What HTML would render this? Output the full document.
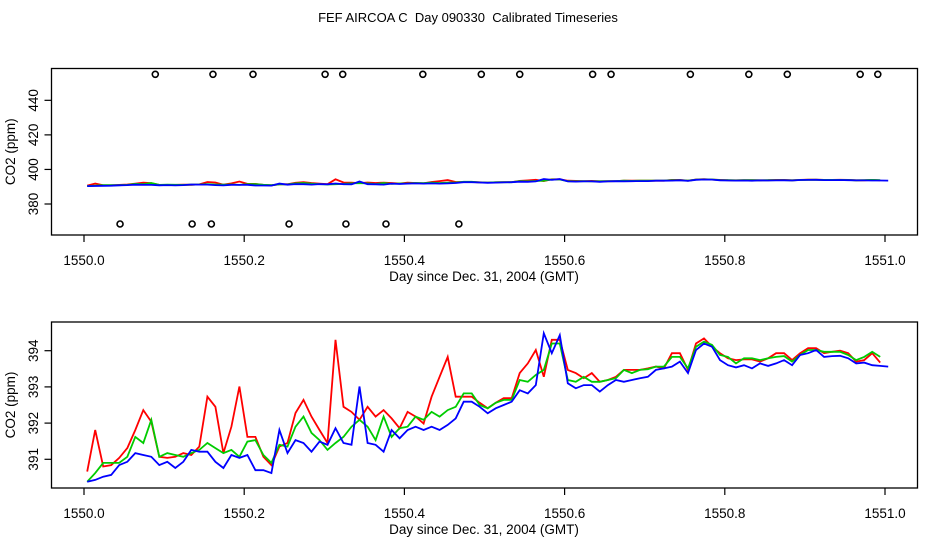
<!DOCTYPE html>
<html><head><meta charset="utf-8"><style>
body{margin:0;background:#fff}
svg{display:block;font-family:"Liberation Sans",sans-serif}
text{white-space:pre}
</style></head><body>
<svg id="c" width="936" height="540"></svg>
<script>
const dayTicks=[1550.0,1550.2,1550.4,1550.6,1550.8,1551.0];
const topTicks=[380,400,420,440];
const botTicks=[391,392,393,394];
const redVals=[390.66,391.81,390.80,390.84,391.04,391.31,391.81,392.36,392.04,391.07,391.04,391.07,391.17,391.12,391.35,392.73,392.45,391.17,391.90,393.01,391.62,391.62,391.07,390.84,391.35,391.45,392.28,392.64,392.18,391.81,391.45,394.30,392.45,392.31,392.09,392.45,392.18,392.36,392.13,391.86,392.31,392.18,391.99,392.73,393.28,393.83,392.73,392.73,392.73,392.56,392.41,392.56,392.69,392.69,393.38,393.65,394.02,393.28,394.30,394.30,393.47,393.38,393.24,393.38,393.14,393.19,393.28,393.47,393.47,393.47,393.51,393.56,393.51,393.93,393.93,393.47,394.20,394.34,394.11,393.93,393.79,393.74,393.76,393.76,393.70,393.79,393.93,393.93,393.74,393.93,394.07,394.07,393.93,393.97,394.00,393.93,393.70,393.74,393.93,393.67];
const greenVals=[390.38,390.62,390.90,390.90,390.90,391.07,391.62,391.45,392.09,391.07,391.17,391.12,391.07,391.17,391.26,391.45,391.31,391.17,391.26,391.07,391.49,391.53,391.12,390.90,391.40,391.35,391.90,392.18,391.73,391.53,391.26,391.45,391.62,391.90,392.09,391.90,391.53,392.18,391.62,391.86,391.90,392.18,392.09,392.31,392.18,392.36,392.45,392.82,392.82,392.50,392.41,392.56,392.64,392.64,393.19,393.14,393.33,393.47,394.20,394.20,393.19,393.14,393.28,393.14,393.14,393.19,393.24,393.47,393.38,393.47,393.49,393.56,393.56,393.83,393.83,393.51,394.11,394.25,394.16,393.88,393.83,393.65,393.79,393.79,393.74,393.79,393.83,393.85,393.70,393.88,394.02,394.02,393.97,393.97,393.97,393.88,393.74,393.83,393.97,393.83];
const blueVals=[390.38,390.43,390.52,390.57,390.84,390.93,391.17,391.12,391.07,390.84,390.93,390.76,390.93,391.26,391.21,391.21,390.93,390.76,391.12,391.04,391.12,390.70,390.70,390.62,391.81,391.17,391.53,391.45,391.21,391.49,391.40,391.86,391.45,391.40,393.01,391.45,391.40,391.21,391.81,391.58,391.81,391.90,391.81,391.90,391.81,391.95,392.13,392.59,392.59,392.45,392.27,392.41,392.50,392.59,392.91,392.82,393.05,394.48,393.93,394.43,393.10,392.96,393.05,393.05,392.87,393.05,393.19,393.14,393.19,393.24,393.28,393.47,393.51,393.56,393.70,393.38,394.02,394.20,394.11,393.74,393.60,393.54,393.60,393.51,393.65,393.58,393.65,393.74,393.60,393.88,393.93,394.02,393.83,393.85,393.86,393.79,393.65,393.67,393.60,393.58,393.56];
const highFlagDays=[1550.089,1550.161,1550.211,1550.301,1550.323,1550.423,1550.496,1550.544,1550.635,1550.658,1550.757,1550.830,1550.878,1550.969,1550.991];
const lowFlagDays=[1550.045,1550.135,1550.159,1550.256,1550.327,1550.377,1550.468];
const startDay=1550.004, stepDay=0.01;

const NS="http://www.w3.org/2000/svg";
const svg=document.getElementById('c');
function mk(tag,attrs,parent){const e=document.createElementNS(NS,tag);for(const k in attrs)e.setAttribute(k,attrs[k]);(parent||svg).appendChild(e);return e;}
const xs=d=>84+(d-1550)*801;
const yTop=v=>204-(v-380)*1.728;
const yBot=v=>350.7-(v-394)*36.2;
const dayOf=i=>startDay+i*stepDay;
const FS=13.5;

const title=mk('text',{x:468,y:22,'text-anchor':'middle','font-size':13});
title.textContent='FEF AIRCOA C  Day 090330  Calibrated Timeseries';



function panel(name,top,bottom,ys,yticks){
  const g=mk('g',{});
  
  
  const box=mk('rect',{x:51.5,y:top,width:866,height:bottom-top,fill:'none',stroke:'#000','stroke-width':1.3},g);
  
  
  dayTicks.forEach(d=>{
    mk('line',{x1:xs(d),x2:xs(d),y1:bottom,y2:bottom+7,stroke:'#000','stroke-width':1.2},g);
    const t=mk('text',{x:xs(d),y:bottom+30,'text-anchor':'middle','font-size':FS},g);
    t.textContent=d.toFixed(1);
    
    
  });
  yticks.forEach(v=>{
    const y=ys(v);
    mk('line',{x1:51.5,x2:44.5,y1:y,y2:y,stroke:'#000','stroke-width':1.2},g);
    const t=mk('text',{x:0,y:0,'text-anchor':'middle','font-size':FS,transform:`translate(38,${y}) rotate(-90)`},g);
    t.textContent=String(v);
    
    
  });
  const xt=mk('text',{x:484,y:bottom+46,'text-anchor':'middle','font-size':FS},g);
  xt.textContent='Day since Dec. 31, 2004 (GMT)';
  
  
  const yt=mk('text',{x:0,y:0,'text-anchor':'middle','font-size':FS,transform:`translate(15,${(top+bottom)/2}) rotate(-90)`},g);
  yt.textContent='CO2 (ppm)';
  
  
  [['red-series',redVals,'#f00'],['green-series',greenVals,'#0c0'],['blue-series',blueVals,'#00f']].forEach(([n,vals,col])=>{
    const pts=vals.map((v,i)=>xs(dayOf(i)).toFixed(1)+','+ys(v).toFixed(1)).join(' ');
    const p=mk('polyline',{points:pts,fill:'none',stroke:col,'stroke-width':1.8},g);
    
    
  });
  return g;
}
const gt=panel('top-panel',68.5,235,yTop,topTicks);
panel('bottom-panel',322,488,yBot,botTicks);
highFlagDays.forEach(d=>{
  const c=mk('circle',{cx:xs(d),cy:74.3,r:3,fill:'none',stroke:'#000','stroke-width':1.6},gt);
  
  
});
lowFlagDays.forEach(d=>{
  const c=mk('circle',{cx:xs(d),cy:224,r:3,fill:'none',stroke:'#000','stroke-width':1.6},gt);
  
  
});
</script>
</body></html>
